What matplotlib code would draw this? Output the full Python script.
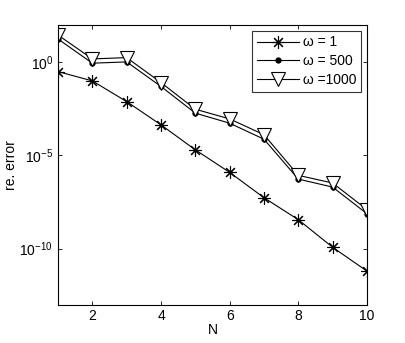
import numpy as np
import matplotlib
matplotlib.use("Agg")
import matplotlib.pyplot as plt
from matplotlib.ticker import FixedLocator, NullLocator, LogFormatterMathtext

plt.rcParams['font.family'] = ['Liberation Sans', 'DejaVu Sans']
plt.rcParams['mathtext.fontset'] = 'custom'
plt.rcParams['mathtext.rm'] = 'Liberation Sans'
plt.rcParams['mathtext.it'] = 'Liberation Sans'

N = [1, 2, 3, 4, 5, 6, 7, 8, 9, 10]
# log10 of the relative error
log_err_w1 = [-0.50, -1.00, -2.11, -3.36, -4.70, -5.91, -7.27, -8.45, -9.93, -11.21]
log_err_w500 = [1.25, -0.05, 0.02, -1.30, -2.73, -3.27, -4.13, -6.27, -6.70, -8.13]
log_err_w1000 = [1.46, 0.18, 0.25, -1.09, -2.52, -3.04, -3.89, -6.07, -6.48, -7.91]
labels = ["\u03c9 = 1", "\u03c9 = 500", "\u03c9 =1000"]

err_w1 = 10.0 ** np.array(log_err_w1)
err_w500 = 10.0 ** np.array(log_err_w500)
err_w1000 = 10.0 ** np.array(log_err_w1000)

fig = plt.figure(figsize=(4.05, 3.43), dpi=100)
ax = fig.add_axes([58 / 405, 1 - 304.5 / 343, 309 / 405, 279.5 / 343])

ax.semilogy(N, err_w1, color='k', lw=0.8, marker=(8, 2, 0), ms=9,
            mew=0.8, label=labels[0])
ax.semilogy(N, err_w500, color='k', lw=0.8, marker='o', ms=3.5,
            label=labels[1])
ax.semilogy(N, err_w1000, color='k', lw=0.8, marker='v', ms=9.5,
            mfc='white', mew=0.8, label=labels[2])

ax.set_xlim(1, 10)
ax.set_ylim(1e-13, 1e2)
ax.set_xticks([2, 4, 6, 8, 10])
ax.yaxis.set_major_locator(FixedLocator([1e-10, 1e-5, 1e0]))
ax.yaxis.set_minor_locator(NullLocator())
ax.yaxis.set_major_formatter(LogFormatterMathtext())
ax.tick_params(direction='in', top=True, right=True, labelsize=10,
               length=3, width=0.6)
for s in ax.spines.values():
    s.set_linewidth(0.8)

ax.set_xlabel("N", fontsize=10, labelpad=0)
ax.set_ylabel("re. error", fontsize=10, labelpad=1)

leg = ax.legend(loc='upper right', fontsize=10, frameon=True, fancybox=False,
                edgecolor='k', borderaxespad=0.4, handlelength=3.0,
                labelspacing=0.35, handletextpad=0.3, borderpad=0.35)
leg.get_frame().set_linewidth(0.8)

fig.savefig("out.png", dpi=100)
